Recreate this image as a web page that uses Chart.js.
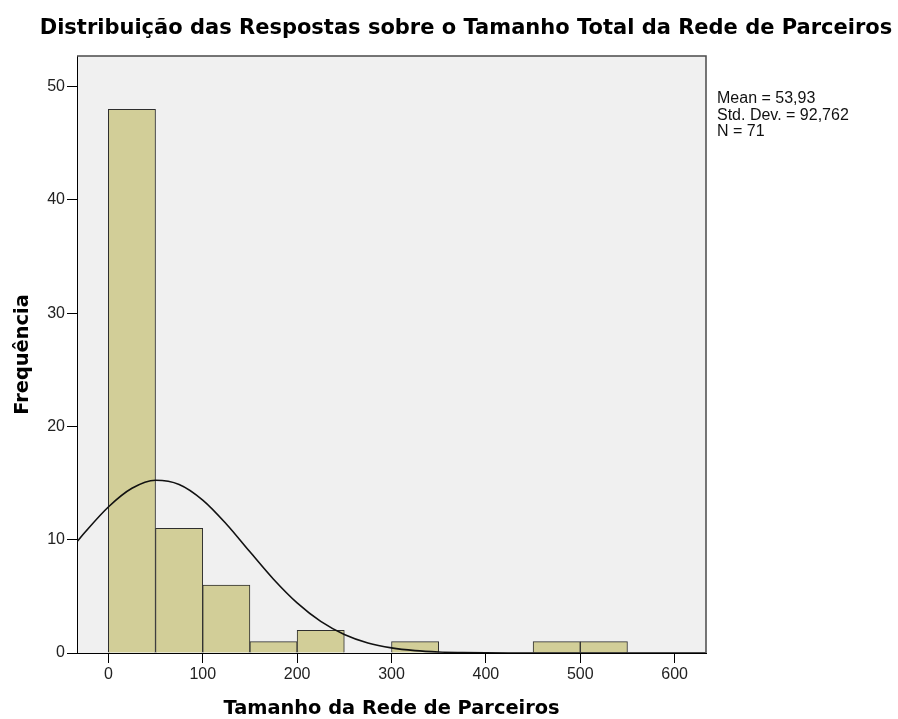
<!DOCTYPE html>
<html>
<head>
<meta charset="utf-8">
<script src="https://cdn.jsdelivr.net/npm/chart.js@4.4.0/dist/chart.umd.min.js"></script>
<style>
  html, body { margin: 0; padding: 0; background: #fff; }
  #wrap { width: 898px; height: 719px; }
</style>
</head>
<body>
<div id="wrap"><canvas id="hist" width="898" height="719"></canvas></div>
<script>
// histogram bins (lower edge) and counts, bin width 50
const binWidth = 50;
const binStarts = [0, 50, 100, 150, 200, 250, 300, 350, 400, 450, 500];
const binCounts = [48, 11, 6, 1, 2, 0, 1, 0, 0, 1, 1];

// fitted normal curve, read along the x axis
const curveX = [-33, -25, 0, 25, 50, 75, 100, 125, 150, 175, 200, 225, 250, 275, 300, 325, 350, 375, 400, 425, 450, 500, 550, 633];
const curveY = [9.84, 10.63, 12.89, 14.54, 15.25, 14.88, 13.50, 11.39, 8.93, 6.51, 4.42, 2.79, 1.64, 0.89, 0.45, 0.21, 0.09, 0.04, 0.01, 0.005, 0.002, 0, 0, 0];

const xTicks = [0, 100, 200, 300, 400, 500, 600];
const yTicks = [0, 10, 20, 30, 40, 50];

const titleText = 'Distribuição das Respostas sobre o Tamanho Total da Rede de Parceiros';
const statLines = ['Mean = 53,93', 'Std. Dev. = 92,762', 'N = 71'];

const barData = binStarts.map((s, i) => ({ x: s + binWidth / 2, y: binCounts[i] }));
const curveData = curveX.map((x, i) => ({ x: x, y: curveY[i] }));

const decor = {
  id: 'decor',
  beforeDraw(chart) {
    const { ctx, chartArea: a } = chart;
    ctx.save();
    ctx.fillStyle = '#ffffff';
    ctx.fillRect(0, 0, chart.width, chart.height);
    ctx.fillStyle = '#f0f0f0';
    ctx.fillRect(a.left, a.top, a.right - a.left, a.bottom - a.top);
    ctx.restore();
  },
  afterDatasetsDraw(chart) {
    const { ctx, chartArea: a } = chart;
    ctx.save();
    ctx.strokeStyle = '#4a4a4a';
    ctx.lineWidth = 1.5;
    ctx.beginPath();
    ctx.moveTo(a.left, a.top);
    ctx.lineTo(a.right, a.top);
    ctx.lineTo(a.right, a.bottom);
    ctx.stroke();
    ctx.restore();
  },
  afterDraw(chart) {
    const ctx = chart.ctx;
    ctx.save();
    ctx.fillStyle = '#000';
    ctx.textAlign = 'center';
    ctx.textBaseline = 'alphabetic';
    ctx.font = 'bold 21px "DejaVu Sans"';
    ctx.fillText(titleText, 466, 33.5);

    ctx.textAlign = 'left';
    ctx.font = '16px "Liberation Sans"';
    ctx.fillStyle = '#111';
    statLines.forEach((t, i) => ctx.fillText(t, 717, 103 + i * 16.5));
    ctx.restore();
  }
};

const tickFont = { family: '"Liberation Sans"', size: 16 };
const axisTitleFont = { family: '"DejaVu Sans"', size: 19.4, weight: 'bold', lineHeight: 1 };

new Chart(document.getElementById('hist').getContext('2d'), {
  type: 'bar',
  data: {
    datasets: [
      {
        type: 'line',
        data: curveData,
        borderColor: '#111',
        borderWidth: 1.6,
        pointRadius: 0,
        cubicInterpolationMode: 'monotone',
        fill: false,
        order: 0
      },
      {
        type: 'bar',
        data: barData,
        backgroundColor: '#d2ce98',
        borderColor: '#2e2e2e',
        borderWidth: 1,
        barPercentage: 1,
        categoryPercentage: 1,
        order: 1
      }
    ]
  },
  options: {
    responsive: false,
    animation: false,
    layout: { padding: { top: 56, right: 192, left: 0, bottom: 0 } },
    plugins: {
      legend: { display: false },
      tooltip: { enabled: false },
      title: { display: false }
    },
    scales: {
      x: {
        type: 'linear',
        min: -33.2,
        max: 633.2,
        offset: false,
        afterBuildTicks: s => { s.ticks = xTicks.map(v => ({ value: v })); },
        afterFit: s => { s.height = 66; },
        ticks: { font: tickFont, color: '#222', padding: 2, maxRotation: 0 },
        grid: { offset: false, drawOnChartArea: false, drawTicks: true, tickLength: 10, color: '#000' },
        border: { display: true, color: '#000', width: 1 },
        title: {
          display: true,
          text: 'Tamanho da Rede de Parceiros',
          color: '#000',
          font: axisTitleFont,
          padding: 0
        }
      },
      y: {
        min: 0,
        max: 52.7,
        afterBuildTicks: s => { s.ticks = yTicks.map(v => ({ value: v })); },
        afterFit: s => { s.width = 77; },
        ticks: { font: tickFont, color: '#222', padding: 2 },
        grid: { drawOnChartArea: false, drawTicks: true, tickLength: 10, color: '#000' },
        border: { display: true, color: '#000', width: 1 },
        title: {
          display: true,
          text: 'Frequência',
          color: '#000',
          font: axisTitleFont,
          padding: { top: 13, bottom: 0 }
        }
      }
    }
  },
  plugins: [decor]
});
</script>
</body>
</html>
